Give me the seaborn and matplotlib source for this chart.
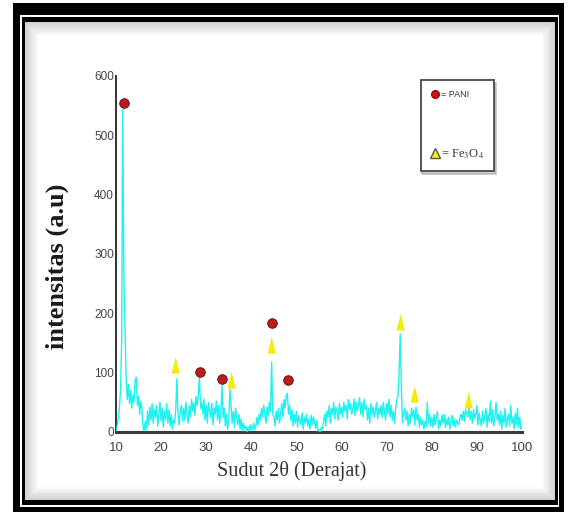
import numpy as np
import pandas as pd
import matplotlib
matplotlib.use("Agg")
import matplotlib.pyplot as plt
import seaborn as sns
from matplotlib.patches import Rectangle
from matplotlib.lines import Line2D

# ---------------- data ----------------
theta_start = 10.0
theta_step = 0.25
intensity = [
    2, 10, 22, 40,      # 10
    70, 150, 545, 260,  # 11
    170, 90, 55, 80,    # 12
    48, 70, 40, 62,     # 13
    50, 88, 92, 45,     # 14
    60, 30, 52, 38,     # 15
    8, 2, 18, 5,        # 16
    35, 12, 42, 20,     # 17
    48, 15, 38, 25,     # 18
    45, 10, 30, 50,     # 19
    18, 40, 8, 35,      # 20
    22, 48, 15, 38,     # 21
    10, 30, 5, 20,      # 22
    15, 40, 90, 30,     # 23
    12, 35, 45, 18,     # 24
    40, 20, 50, 30,     # 25
    15, 45, 25, 55,     # 26
    35, 50, 28, 60,     # 27
    45, 62, 92, 40,     # 28
    50, 30, 55, 20,     # 29
    45, 15, 50, 35,     # 30
    25, 48, 12, 40,     # 31
    30, 52, 20, 45,     # 32
    15, 35, 78, 25,     # 33
    40, 10, 30, 5,      # 34
    20, 72, 45, 15,     # 35
    35, 8, 40, 25,      # 36
    12, 30, 5, 22,      # 37
    2, 15, 5, 10,       # 38
    0, 8, 3, 12,        # 39
    2, 6, 15, 4,        # 40
    10, 25, 12, 30,     # 41
    20, 40, 25, 45,     # 42
    30, 15, 42, 28,     # 43
    50, 35, 118, 30,    # 44
    25, 10, 35, 20,     # 45
    40, 15, 32, 48,     # 46
    25, 55, 40, 62,     # 47
    65, 30, 45, 20,     # 48
    38, 10, 30, 15,     # 49
    35, 8, 28, 20,      # 50
    12, 32, 5, 25,      # 51
    15, 30, 10, 22,     # 52
    5, 28, 12, 25,      # 53
    18, 6, 20, 2,       # 54
    3, 0, 8, 5,         # 55
    18, 30, 10, 35,     # 56
    25, 45, 15, 40,     # 57
    30, 50, 22, 42,     # 58
    35, 20, 48, 30,     # 59
    42, 25, 50, 35,     # 60
    45, 22, 55, 38,     # 61
    48, 30, 40, 55,     # 62
    28, 50, 35, 45,     # 63
    58, 30, 50, 25,     # 64
    55, 38, 45, 20,     # 65
    40, 15, 48, 30,     # 66
    42, 25, 35, 50,     # 67
    22, 40, 30, 45,     # 68
    25, 50, 35, 20,     # 69
    48, 30, 55, 25,     # 70
    45, 20, 35, 15,     # 71
    40, 55, 60, 100,    # 72
    165, 80, 15, 30,    # 73
    40, 20, 35, 10,     # 74
    30, 15, 40, 25,     # 75
    38, 12, 42, 20,     # 76
    30, 8, 25, 12,      # 77
    20, 5, 18, 8,       # 78
    50, 15, 30, 10,     # 79
    25, 8, 30, 12,      # 80
    22, 35, 5, 20,      # 81
    10, 28, 15, 30,     # 82
    8, 22, 12, 25,      # 83
    5, 18, 28, 10,      # 84
    22, 8, 20, 15,      # 85
    12, 25, 30, 20,     # 86
    35, 18, 38, 30,     # 87
    25, 40, 20, 35,     # 88
    15, 38, 22, 30,     # 89
    45, 12, 32, 20,     # 90
    10, 35, 15, 28,     # 91
    40, 8, 30, 18,      # 92
    52, 15, 38, 10,     # 93
    25, 50, 20, 30,     # 94
    12, 35, 5, 28,      # 95
    15, 40, 8, 22,      # 96
    30, 10, 45, 15,     # 97
    25, 5, 32, 12,      # 98
    40, 8, 25, 5,       # 99
    8,                  # 100
]
two_theta = theta_start + theta_step * np.arange(len(intensity))

pani_theta = [11.8, 28.6, 33.4, 44.5, 48.05]
pani_int = [554, 101, 90, 183, 87]
fe_theta = [23.0, 35.5, 44.4, 73.0, 76.0, 88.1]
fe_int = [113, 88, 147, 186, 64, 54]

x_ticks = [10, 20, 30, 40, 50, 60, 70, 80, 90, 100]
y_ticks = [0, 100, 200, 300, 400, 500, 600]
legend_labels = ["= PANI", "= Fe$_3$O$_4$"]

# ---------------- figure ----------------
sns.set_style("white")
plt.rcParams["mathtext.fontset"] = "stix"

W, H = 568, 515
fig = plt.figure(figsize=(W / 100, H / 100), dpi=100)
fig.patch.set_facecolor("white")


def frame_rect(x0, y0, x1, y1, color, z):
    fig.add_artist(Rectangle((x0 / W, 1 - y1 / H), (x1 - x0) / W, (y1 - y0) / H,
                             transform=fig.transFigure, facecolor=color,
                             edgecolor="none", zorder=z))


frame_rect(13, 3, 564, 512, "black", -30)
frame_rect(20, 15, 559, 507, "white", -29)
frame_rect(22, 17, 558, 505, "black", -28)
# soft grey shading inside the frame
n = 12
for i in range(n):
    g = 0.80 + 0.20 * (i + 1) / n
    frame_rect(25 + i * 1.2, 22 + i * 1.2, 555 - i * 1.2, 500 - i * 1.2, (g, g, g), -27 + i * 0.1)

ax = fig.add_axes([116 / W, 1 - 432 / H, 406 / W, 356 / H])
ax.patch.set_alpha(0)

df = pd.DataFrame({"theta": two_theta, "intensity": intensity})
sns.lineplot(data=df, x="theta", y="intensity", ax=ax, color="#1ff0f0",
             lw=1.0, zorder=3, legend=False)

sns.scatterplot(x=pani_theta, y=pani_int, ax=ax, marker="o", s=48,
                color="#b81c1c", edgecolor="#6a0c0c", linewidth=0.6, zorder=5)
tri = [(-0.5, -1.0), (0.5, -1.0), (0.0, 1.0)]
sns.scatterplot(x=fe_theta, y=fe_int, ax=ax, marker=tri, s=120,
                color="#f4ee00", edgecolor="#e8d800", linewidth=0.4, zorder=5)

ax.set_xlim(10, 100)
ax.set_ylim(0, 600)
ax.set_xticks(x_ticks)
ax.set_yticks(y_ticks)
ax.set_xticklabels([str(v) for v in x_ticks], fontfamily="Liberation Sans",
                   fontsize=9.5, color="#444")
ax.set_yticklabels([str(v) for v in y_ticks], fontfamily="Liberation Sans",
                   fontsize=8.5, color="#444")
ax.tick_params(axis="x", length=0, pad=7)
ax.tick_params(axis="y", length=0, pad=1.5)

for side in ["top", "right"]:
    ax.spines[side].set_visible(False)
ax.spines["left"].set_color("#333")
ax.spines["left"].set_linewidth(1.4)
ax.spines["bottom"].set_color("#3a3a3a")
ax.spines["bottom"].set_linewidth(2.2)

ax.set_ylabel("intensitas (a.u)", fontfamily="Liberation Serif", fontweight="bold",
              fontsize=19, color="#1a1a1a", va="center")
ax.yaxis.set_label_coords(-0.145, 0.466)
ax.set_xlabel("Sudut 2θ (Derajat)", fontfamily="Liberation Serif", fontsize=14.5,
              color="#333", va="center")
ax.xaxis.set_label_coords(0.433, -0.11)

handles = [
    Line2D([], [], ls="", marker="o", markersize=5.5, markerfacecolor="#d81010",
           markeredgecolor="#8a0a0a"),
    Line2D([], [], ls="", marker="^", markersize=7, markerfacecolor="#f2f200",
           markeredgecolor="#555"),
]
leg = ax.legend(handles, legend_labels,
                loc="upper left", bbox_to_anchor=(0.751, 0.989), frameon=True,
                fancybox=False, edgecolor="#555", fontsize=7, borderpad=1.05,
                labelspacing=4.9, handlelength=0.8, handletextpad=0.2,
                borderaxespad=0,
                shadow={"ox": 1, "oy": -2, "color": "#aaaaaa", "alpha": 0.6})
leg.get_frame().set_linewidth(1.4)
leg.get_frame().set_facecolor("white")
t0, t1 = leg.get_texts()
t0.set_fontfamily("Liberation Sans")
t0.set_fontsize(6.5)
t0.set_color("#333")
t1.set_fontfamily("Liberation Serif")
t1.set_fontsize(9)
t1.set_color("#333")

fig.savefig("out.png", dpi=100)
